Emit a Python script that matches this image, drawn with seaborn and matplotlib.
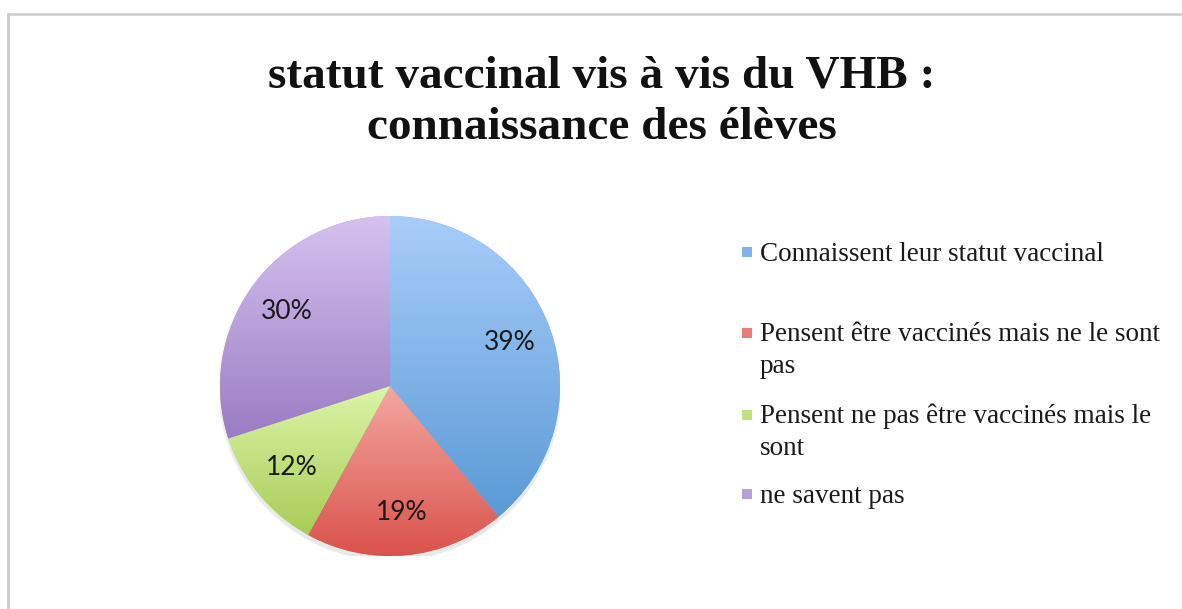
import numpy as np
import matplotlib
matplotlib.use("Agg")
import matplotlib.pyplot as plt
from matplotlib.patches import Rectangle, Circle
from matplotlib.lines import Line2D
import seaborn as sns

W, H = 1182, 609

title = "statut vaccinal vis à vis du VHB :\nconnaissance des élèves"
categories = [
    "Connaissent leur statut vaccinal",
    "Pensent être vaccinés mais ne le sont\npas",
    "Pensent ne pas être vaccinés mais le\nsont",
    "ne savent pas",
]
percents = [39, 19, 12, 30]
top_colors = ["#a9cdfa", "#f4a7a1", "#dcf5a8", "#d5c2f0"]
bottom_colors = ["#5a9ad6", "#d9534c", "#a8cc56", "#9a7cc2"]

sns.set_theme(style="white")
plt.rcParams["font.family"] = ["Liberation Serif", "DejaVu Serif"]

fig = plt.figure(figsize=(W / 100, H / 100), dpi=100)
fig.patch.set_facecolor("white")

# pie area: centre (390, 386) px, radius 170 px
ax = fig.add_axes([220 / W, (H - 556) / H, 340 / W, 340 / H])

mid_colors = [sns.blend_palette([t, b], 3)[1] for t, b in zip(top_colors, bottom_colors)]

wedges, _, autotexts = ax.pie(
    percents,
    colors=mid_colors,
    startangle=90,
    counterclock=False,
    autopct=lambda p: f"{p:.0f}%",
    pctdistance=0.75,
    wedgeprops=dict(linewidth=0),
    textprops=dict(family=["Lato", "DejaVu Sans"], fontsize=19, color="#1a1a1a"),
)

# soft shadow under the pie
for k, a in enumerate([0.05, 0.05, 0.06]):
    ax.add_patch(Circle((0, -0.015 - 0.008 * k), 1.0 + 0.006 * (2 - k),
                        color="#777777", alpha=a, zorder=0.5, lw=0))

# vertical gradient inside each slice
grad = np.linspace(0, 1, 256).reshape(-1, 1)
for w, c_top, c_bot in zip(wedges, top_colors, bottom_colors):
    ext = w.get_path().get_extents()
    cmap = sns.blend_palette([c_bot, c_top], as_cmap=True)
    im = ax.imshow(grad, cmap=cmap, origin="lower", aspect="auto",
                   extent=[ext.x0, ext.x1, ext.y0, ext.y1], zorder=1.5)
    im.set_clip_path(w)

for t in autotexts:
    t.set_zorder(4)

ax.set_xlim(-1, 1)
ax.set_ylim(-1, 1)
ax.set_aspect("equal")
ax.axis("off")

# title, last line baseline at y=139 px
fig.text(602 / W, 1 - 139 / H, title, ha="center", va="baseline", multialignment="center",
         fontsize=34, fontweight="bold", linespacing=1.3, color="#111111")

# legend (manual, first-line baselines in px)
legend_baselines = [261, 342, 424, 503]
line_px = 31
for cat, col, yb in zip(categories, mid_colors, legend_baselines):
    fig.patches.append(Rectangle((742 / W, 1 - (yb - 4.5) / H), 10 / W, 10 / H,
                                 transform=fig.transFigure, color=col, lw=0))
    y_last = yb + cat.count("\n") * line_px
    fig.text(760 / W, 1 - y_last / H, cat, va="baseline", ha="left",
             fontsize=19.5, linespacing=1.35, color="#1a1a1a")

# chart frame (left and top edges visible)
fig.add_artist(Line2D([8 / W, 8 / W], [0, 1 - 14 / H], transform=fig.transFigure,
                      color="#cccccc", lw=2.2))
fig.add_artist(Line2D([8 / W, 1], [1 - 14 / H, 1 - 14 / H], transform=fig.transFigure,
                      color="#cccccc", lw=1.8))

fig.savefig("out.png", dpi=100, facecolor="white")
